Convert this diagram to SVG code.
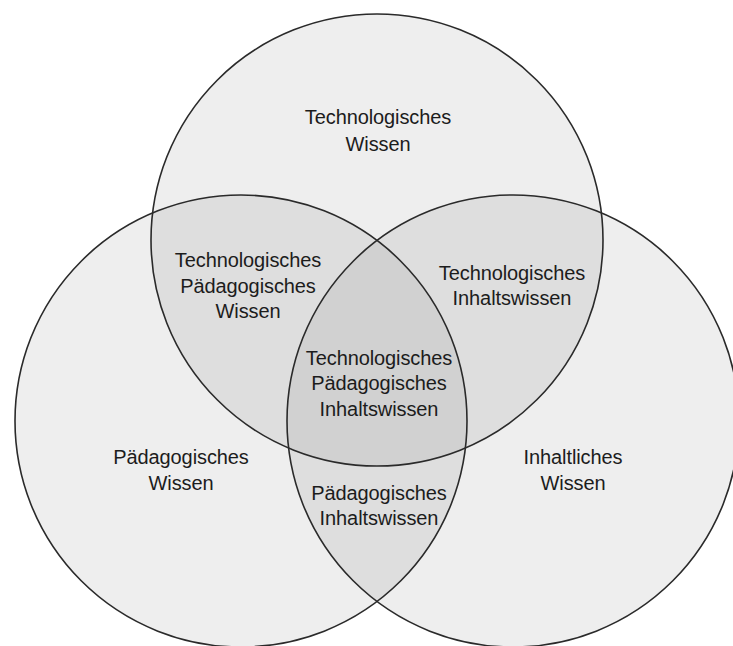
<svg xmlns="http://www.w3.org/2000/svg" width="733" height="646" viewBox="0 0 733 646">
<style>
.lbl{font-family:"Liberation Sans",Arial,Helvetica,sans-serif;font-size:20px;fill:#1c1c1c;text-anchor:middle;letter-spacing:-0.1px}
.ring{fill:none;stroke:#2a2a2a;stroke-width:1.6}
</style>
<defs>
<circle id="cT" cx="377" cy="240" r="226"/>
<circle id="cP" cx="241" cy="421" r="226"/>
<circle id="cI" cx="513" cy="421" r="226"/>
<clipPath id="clT"><use href="#cT"/></clipPath>
<clipPath id="clP"><use href="#cP"/></clipPath>
<clipPath id="clI"><use href="#cI"/></clipPath>
</defs>
<rect width="733" height="646" fill="#fff"/>
<g id="fills">
<use href="#cT" fill="#eeeeee"/>
<use href="#cP" fill="#eeeeee"/>
<use href="#cI" fill="#eeeeee"/>
<g clip-path="url(#clT)"><use href="#cP" fill="#dedede"/><use href="#cI" fill="#dedede"/></g>
<g clip-path="url(#clP)"><use href="#cI" fill="#dedede"/></g>
<g clip-path="url(#clT)"><g clip-path="url(#clP)"><use href="#cI" fill="#d1d1d1"/></g></g>
</g>
<g id="circles">
<use id="circle-tech" href="#cT" class="ring"/>
<use id="circle-paed" href="#cP" class="ring"/>
<use id="circle-inhalt" href="#cI" class="ring"/>
</g>
<g id="tw"><text class="lbl" x="378" y="124">Technologisches</text><text class="lbl" x="378" y="151">Wissen</text></g>
<g id="tpw"><text class="lbl" x="248" y="267">Technologisches</text><text class="lbl" x="248" y="293">Pädagogisches</text><text class="lbl" x="248" y="318">Wissen</text></g>
<g id="tiw"><text class="lbl" x="512" y="280">Technologisches</text><text class="lbl" x="512" y="305">Inhaltswissen</text></g>
<g id="tpiw"><text class="lbl" x="379" y="365">Technologisches</text><text class="lbl" x="379" y="390">Pädagogisches</text><text class="lbl" x="379" y="416">Inhaltswissen</text></g>
<g id="pw"><text class="lbl" x="181" y="464">Pädagogisches</text><text class="lbl" x="181" y="490">Wissen</text></g>
<g id="iw"><text class="lbl" x="573" y="464">Inhaltliches</text><text class="lbl" x="573" y="490">Wissen</text></g>
<g id="piw"><text class="lbl" x="379" y="500">Pädagogisches</text><text class="lbl" x="379" y="525">Inhaltswissen</text></g>
</svg>
